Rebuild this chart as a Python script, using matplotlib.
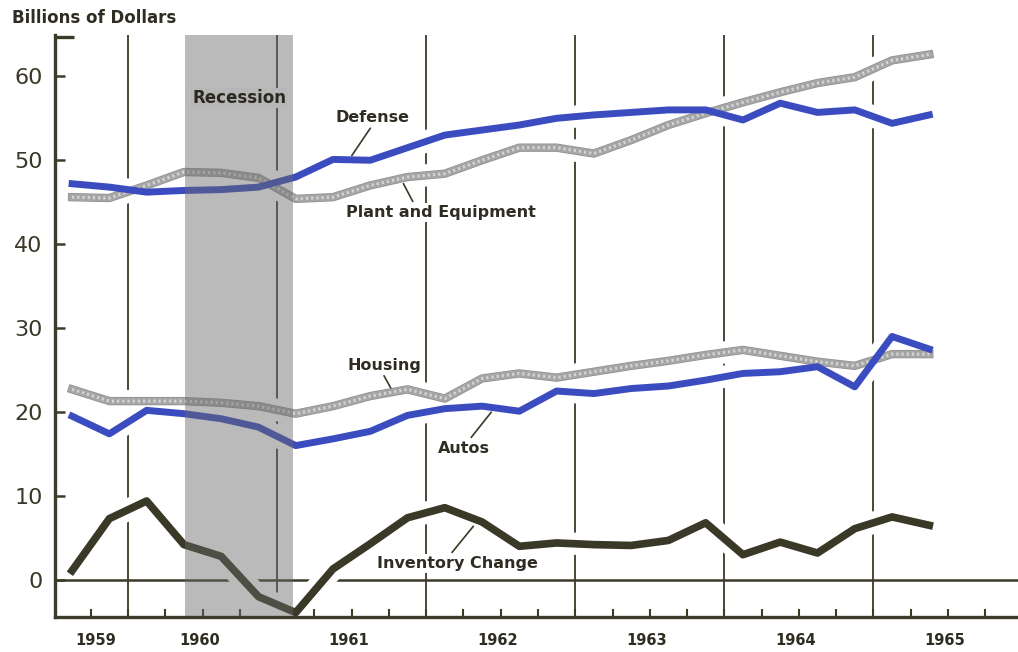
import matplotlib.pyplot as plt
import matplotlib.patheffects as pe
import numpy as np

# quarterly data, 1959 Q3 - 1965 Q2 (billions of dollars)
quarters = [(1959, 3), (1959, 4),
            (1960, 1), (1960, 2), (1960, 3), (1960, 4),
            (1961, 1), (1961, 2), (1961, 3), (1961, 4),
            (1962, 1), (1962, 2), (1962, 3), (1962, 4),
            (1963, 1), (1963, 2), (1963, 3), (1963, 4),
            (1964, 1), (1964, 2), (1964, 3), (1964, 4),
            (1965, 1), (1965, 2)]
defense = [47.2, 46.8, 46.2, 46.4, 46.5, 46.8, 48.0, 50.1, 50.0, 51.5, 53.0, 53.6,
           54.2, 55.0, 55.4, 55.7, 56.0, 56.0, 54.8, 56.8, 55.7, 56.0, 54.4, 55.4]
plant_equipment = [45.6, 45.5, 47.0, 48.6, 48.5, 47.9, 45.4, 45.6, 47.0, 48.0, 48.4, 50.0,
                   51.5, 51.5, 50.8, 52.4, 54.2, 55.6, 56.9, 58.1, 59.2, 59.9, 61.9, 62.6]
housing = [22.7, 21.3, 21.3, 21.3, 21.1, 20.7, 19.8, 20.7, 21.9, 22.7, 21.6, 24.0,
           24.6, 24.1, 24.8, 25.5, 26.1, 26.8, 27.4, 26.7, 26.0, 25.5, 26.9, 26.9]
autos = [19.5, 17.4, 20.2, 19.8, 19.2, 18.2, 16.0, 16.8, 17.7, 19.6, 20.4, 20.7,
         20.1, 22.5, 22.2, 22.8, 23.1, 23.8, 24.6, 24.8, 25.4, 23.0, 29.0, 27.5]
inventory = [1.1, 7.3, 9.4, 4.2, 2.8, -2.0, -3.9, 1.3, 4.3, 7.4, 8.6, 6.9,
             4.0, 4.4, 4.2, 4.1, 4.7, 6.8, 3.0, 4.5, 3.2, 6.1, 7.5, 6.5]
years = [1959, 1960, 1961, 1962, 1963, 1964, 1965]
recession = (1960.38, 1961.11)

x = np.array([y + (q - 1) / 4 + 0.125 for y, q in quarters])

ink = '#3c3a28'
blue = '#3b4cc0'
dark = '#3a3826'

fig = plt.figure(figsize=(10.18, 6.52), dpi=100)
ax = fig.add_axes([0.054, 0.054, 0.946, 0.892])
ax.set_xlim(1959.51, 1965.97)
ax.set_ylim(-4.4, 64.9)

# year dividers and zero line
for yr in years[1:]:
    ax.axvline(yr, color=ink, lw=1.3, zorder=1.5)
ax.axhline(0, color=ink, lw=1.8, zorder=1.5)

# white gaps where the grid meets the data lines
for s in [defense, plant_equipment, housing, autos, inventory]:
    ax.plot(x, s, color='white', lw=16, solid_capstyle='butt', zorder=2)

# halftone-like gray lines
gray_fx = [pe.Stroke(linewidth=6.0, foreground='#8e8e8e'), pe.Normal()]
for s in [plant_equipment, housing]:
    ax.plot(x, s, color='#a6a6a6', lw=5.0, zorder=3, path_effects=gray_fx)
    ax.plot(x, s, color='#d6d6d6', lw=2.2, ls=(0, (0.7, 1.0)), zorder=3.1)
ax.plot(x, defense, color=blue, lw=5, zorder=3.2)
ax.plot(x, autos, color=blue, lw=5, zorder=3.2)
ax.plot(x, inventory, color=dark, lw=5.5, zorder=3.2)

ax.axvspan(recession[0], recession[1], color='#6a6a6a', alpha=0.46, lw=0, zorder=4)
ax.text(sum(recession) / 2, 57.4, 'Recession', ha='center', va='center', fontsize=12,
        fontweight='bold', color='#2a2820', zorder=6,
        bbox=dict(facecolor='#b7b7b7', edgecolor='none', pad=1))

lab = dict(fontsize=11.5, fontweight='bold', color='#2f2d22', zorder=6,
           ha='center', va='center')
box = dict(facecolor='white', edgecolor='none', pad=1.5)
arrow = dict(arrowstyle='-', color=dark, lw=1.2, shrinkA=1, shrinkB=4)
ax.annotate('Defense', xy=(1961.48, 50.0), xytext=(1961.64, 55.1),
            arrowprops=dict(arrow, relpos=(0.5, 0)), bbox=box, **lab)
ax.annotate('Plant and Equipment', xy=(1961.83, 47.8), xytext=(1962.10, 43.8),
            arrowprops=dict(arrow, relpos=(0.36, 1)), bbox=box, **lab)
ax.annotate('Housing', xy=(1961.78, 22.3), xytext=(1961.72, 25.6),
            arrowprops=dict(arrow, relpos=(0.47, 0)), bbox=box, **lab)
ax.annotate('Autos', xy=(1962.46, 20.5), xytext=(1962.25, 15.7),
            arrowprops=dict(arrow, relpos=(0.6, 1)), bbox=box, **lab)
ax.annotate('Inventory Change', xy=(1962.34, 6.9), xytext=(1962.21, 2.0),
            arrowprops=dict(arrow, relpos=(0.45, 1)), bbox=box, **lab)

# axes styling
for side in ['top', 'right']:
    ax.spines[side].set_visible(False)
for side in ['left', 'bottom']:
    ax.spines[side].set_linewidth(2.4)
    ax.spines[side].set_color(ink)
    ax.spines[side].set_zorder(5)

ax.set_yticks(np.arange(0, 61, 10))
ax.set_yticks([64.7], minor=True)
ax.tick_params(axis='y', which='major', direction='in', length=7, width=1.8,
               color=ink, labelsize=16, labelcolor='#3a3828', pad=9)
ax.tick_params(axis='y', which='minor', direction='in', length=14, width=2.4, color=ink)

label_pos = [1959.78] + [y + 0.48 for y in years[1:]]
ax.set_xticks(label_pos)
ax.set_xticklabels([str(y) for y in years])
ax.set_xticks(np.arange(1959.75, 1966, 0.25), minor=True)
ax.tick_params(axis='x', which='major', length=0, labelsize=10.5, pad=12,
               labelcolor='#2f2d22')
ax.tick_params(axis='x', which='minor', direction='in', length=6, width=1.5, color=ink)
for t in ax.get_xticklabels():
    t.set_fontweight('bold')

fig.text(0.012, 0.972, 'Billions of Dollars', fontsize=12, fontweight='bold',
         color='#2f2d22', ha='left', va='center')

fig.savefig('out.png', dpi=100)
